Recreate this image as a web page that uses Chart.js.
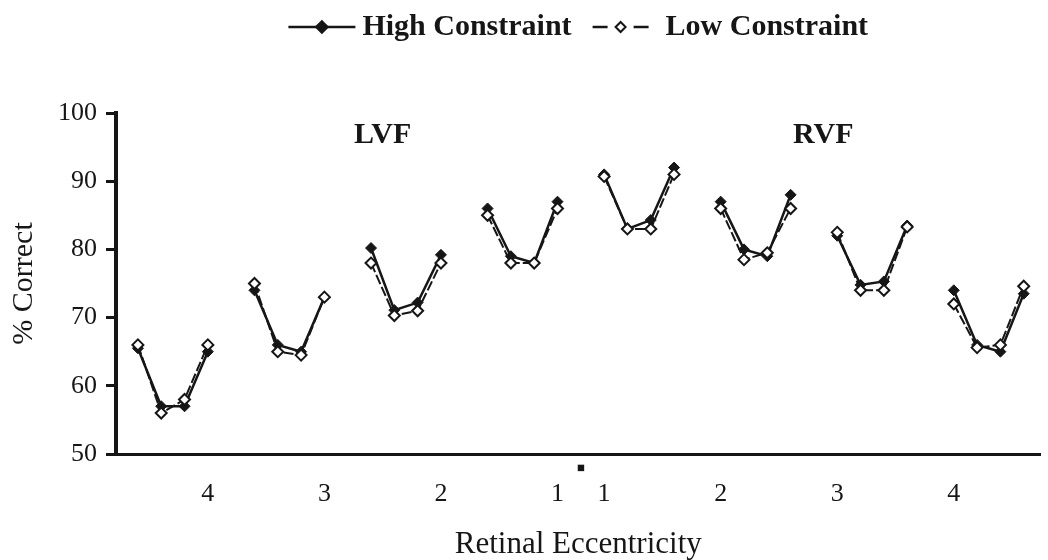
<!DOCTYPE html>
<html>
<head>
<meta charset="utf-8">
<script src="https://cdn.jsdelivr.net/npm/chart.js@4/dist/chart.umd.min.js"></script>
<style>
html,body{margin:0;padding:0;background:#fff;}
#wrap{width:1048px;height:560px;position:relative;}
</style>
</head>
<body>
<div id="wrap"><canvas id="c" width="1048" height="560"></canvas></div>
<script>
// ---- data ----
const groups = ['LVF 4', 'LVF 3', 'LVF 2', 'LVF 1', 'RVF 1', 'RVF 2', 'RVF 3', 'RVF 4'];
const highConstraint = [
  [65.5, 57, 57, 65],
  [74, 66, 65, 73],
  [80.2, 71.1, 72.2, 79.2],
  [86, 79, 78, 87],
  [91, 83, 84.3, 92],
  [87, 80, 79, 88],
  [82, 74.8, 75.3, 83.5],
  [74, 66, 65, 73.5]
];
const lowConstraint = [
  [66, 56, 58, 66],
  [75, 65, 64.5, 73],
  [78, 70.3, 71, 78],
  [85, 78, 78, 86],
  [90.7, 83, 83, 91],
  [86, 78.5, 79.5, 86],
  [82.5, 74, 74, 83.3],
  [72, 65.6, 66, 74.6]
];
const xTickIndex = [3, 8, 13, 18, 19, 20, 25, 30, 35];
const xTickLabels = ['4', '3', '2', '1', '\u25AA', '1', '2', '3', '4'];
const yTicks = [50, 60, 70, 80, 90, 100];
const fieldLabels = ['LVF', 'RVF'];
const fieldLabelX = [10.5, 29.4];
const fieldLabelY = 96.8;

// ---- build points (4 positions per group, a gap slot between groups) ----
function buildPoints(vals) {
  const pts = [];
  vals.forEach((g, gi) => {
    g.forEach((v, pi) => pts.push({x: gi * 5 + pi, y: v}));
    if (gi < vals.length - 1) pts.push({x: gi * 5 + 4, y: null});
  });
  return pts;
}

const INK = '#161616';
const SERIF = '"Liberation Serif", "Times New Roman", serif';

const overlay = {
  id: 'overlay',
  afterDraw(chart) {
    const ctx = chart.ctx;
    const xs = chart.scales.x, ys = chart.scales.y;
    ctx.save();
    // field labels
    ctx.fillStyle = INK;
    ctx.font = 'bold 30px ' + SERIF;
    ctx.textAlign = 'center';
    ctx.textBaseline = 'middle';
    fieldLabels.forEach((t, i) => {
      ctx.fillText(t, xs.getPixelForValue(fieldLabelX[i]), ys.getPixelForValue(fieldLabelY));
    });
    // legend
    const ds = chart.data.datasets;
    ctx.font = 'bold 30px ' + SERIF;
    const w1 = ctx.measureText(ds[0].label).width;
    const w2 = ctx.measureText(ds[1].label).width;
    const sW1 = 67, sW2 = 56, g1 = 7, g2 = 21, g3 = 17;
    const total = sW1 + g1 + w1 + g2 + sW2 + g3 + w2;
    const cx = (chart.chartArea.left + chart.chartArea.right) / 2;
    let x = cx - total / 2;
    const y = 27;
    // sample 1
    ctx.strokeStyle = INK;
    ctx.lineWidth = 2.5;
    ctx.setLineDash([]);
    ctx.beginPath(); ctx.moveTo(x, y); ctx.lineTo(x + sW1, y); ctx.stroke();
    ctx.fillStyle = INK;
    Chart.helpers.drawPoint(ctx, {pointStyle: 'rectRot', radius: 5.5, borderWidth: 1}, x + sW1 / 2, y);
    x += sW1 + g1;
    ctx.fillStyle = INK;
    ctx.textAlign = 'left';
    ctx.fillText(ds[0].label, x, y);
    x += w1 + g2;
    // sample 2
    ctx.lineWidth = 2.5;
    ctx.setLineDash([15, 26]);
    ctx.beginPath(); ctx.moveTo(x, y); ctx.lineTo(x + sW2, y); ctx.stroke();
    ctx.setLineDash([]);
    ctx.fillStyle = '#fff';
    ctx.lineWidth = 2;
    Chart.helpers.drawPoint(ctx, {pointStyle: 'rectRot', radius: 5, borderWidth: 2}, x + sW2 / 2, y);
    x += sW2 + g3;
    ctx.fillStyle = INK;
    ctx.fillText(ds[1].label, x, y);
    ctx.restore();
  }
};

new Chart(document.getElementById('c'), {
  type: 'line',
  data: {
    datasets: [
      {
        label: 'High Constraint',
        data: buildPoints(highConstraint),
        borderColor: INK,
        backgroundColor: INK,
        borderWidth: 2.5,
        pointStyle: 'rectRot',
        pointRadius: 5.5,
        pointBorderWidth: 1,
        pointBackgroundColor: INK,
        pointBorderColor: INK,
        spanGaps: false,
        tension: 0,
        order: 1
      },
      {
        label: 'Low Constraint',
        data: buildPoints(lowConstraint),
        borderColor: INK,
        backgroundColor: '#fff',
        borderWidth: 2,
        borderDash: [10, 3],
        pointStyle: 'rectRot',
        pointRadius: 5.5,
        pointBorderWidth: 2,
        pointBackgroundColor: '#fff',
        pointBorderColor: INK,
        spanGaps: false,
        tension: 0,
        order: 0
      }
    ]
  },
  options: {
    responsive: false,
    animation: false,
    layout: {padding: {top: 113, right: 0, left: 0, bottom: 0}},
    plugins: {legend: {display: false}, tooltip: {enabled: false}},
    scales: {
      x: {
        type: 'linear',
        min: -0.94,
        max: 38.72,
        afterBuildTicks(scale) { scale.ticks = xTickIndex.map(v => ({value: v})); },
        afterFit(scale) { scale.height = 106; },
        ticks: {
          autoSkip: false,
          maxRotation: 0,
          padding: 3,
          color: INK,
          font: {family: SERIF, size: 26, lineHeight: 0.95},
          callback(value) {
            const i = xTickIndex.indexOf(value);
            if (i < 0) return '';
            const t = xTickLabels[i];
            return t === '\u25AA' ? [t, ''] : ['', t];
          }
        },
        grid: {display: true, drawOnChartArea: false, drawTicks: false, tickLength: 0},
        border: {display: true, color: INK, width: 3},
        title: {display: true, text: 'Retinal Eccentricity', color: INK,
                font: {family: SERIF, size: 31, lineHeight: 1.0}, padding: {top: 0, bottom: 0}}
      },
      y: {
        min: 50,
        max: 100,
        afterBuildTicks(scale) { scale.ticks = yTicks.map(v => ({value: v})); },
        afterFit(scale) { scale.width = 116; },
        ticks: {color: INK, padding: 9, font: {family: SERIF, size: 26}},
        grid: {display: true, drawOnChartArea: false, drawTicks: true, tickLength: 10, color: INK, lineWidth: 3},
        border: {display: true, color: INK, width: 4},
        title: {display: true, text: '% Correct', color: INK,
                font: {family: SERIF, size: 30}, padding: {top: 6, bottom: 0}}
      }
    }
  },
  plugins: [overlay]
});
</script>
</body>
</html>
